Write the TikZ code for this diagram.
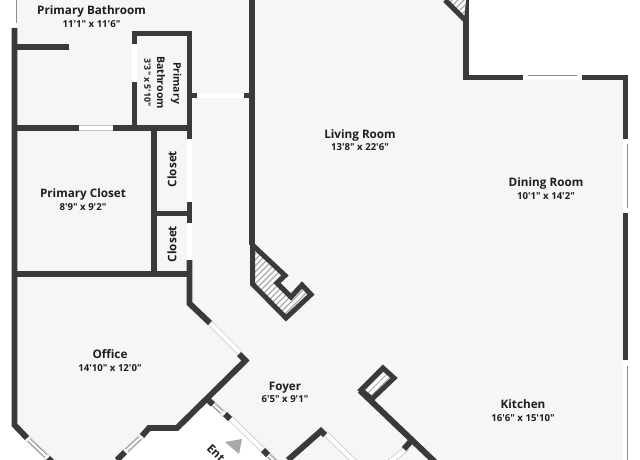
\documentclass[tikz,border=0pt]{standalone}
\usepackage{fontspec}
\usetikzlibrary{calc}
\newfontfamily\lab{Open Sans}
\definecolor{wallc}{HTML}{3A3A3A}
\definecolor{floorc}{HTML}{F6F6F6}
\definecolor{edgec}{HTML}{C4C4C4}
\definecolor{hatchc}{HTML}{A8A8A8}
\definecolor{glassc}{HTML}{8E8E8E}
\definecolor{labc}{HTML}{1E1E1E}
\tikzset{
  wall/.style={draw=wallc,line width=5.9pt,line join=miter,line cap=butt},
  thinwall/.style={draw=wallc,line width=5pt,line join=miter,line cap=butt},
  opening/.style={draw=edgec,line width=.7pt,double=white,double distance=4.2pt,line cap=butt},
  glass/.style={draw=glassc,line width=.9pt,double=white,double distance=2.2pt,line cap=butt},
  hatch/.style={draw=hatchc,line width=1.3pt},
  roomname/.style={font=\lab\bfseries\fontsize{11.7}{13}\selectfont,text=labc,inner sep=0pt,anchor=base},
  roomsize/.style={font=\lab\bfseries\fontsize{9.6}{11}\selectfont,text=labc,inner sep=0pt,anchor=base},
}
\begin{document}
\begin{tikzpicture}[x=1pt,y=-1pt]
\useasboundingbox (0,0) rectangle (640,460);
\clip (0,0) rectangle (640,460);
% floor
\fill[floorc] (14,0) -- (14,425) -- (48,460) -- (117,460) -- (150,428) -- (177,428) -- (207,399)
  -- (270,460) -- (625,460) -- (625,77) -- (466,77) -- (466,0) -- cycle;
% openings
\draw[opening] (14.5,0) -- (14.5,28);
\draw[glass] (14.5,0) -- (14.5,23);
\draw[opening] (134.5,44) -- (134.5,82);
\draw[opening] (79,128) -- (113,128);
\draw[opening] (197,95.5) -- (244,95.5);
\draw[opening] (189.5,139) -- (189.5,202);
\draw[opening] (189.5,223) -- (189.5,260);
\draw[opening] (210,323) -- (240,353);
\draw[opening] (523,77.5) -- (582,77.5);
\draw[glass] (528,77.5) -- (577,77.5);
\draw[opening] (625.5,139) -- (625.5,213);
\draw[glass] (625.5,144) -- (625.5,208);
\draw[opening] (625.5,362) -- (625.5,460);
\draw[glass] (625.5,366) -- (625.5,460);
\draw[opening] (27,438) -- (48,458);
\draw[glass] (29,440) -- (46,456);
\draw[opening] (125,452) -- (142,436);
\draw[glass] (127,450) -- (140,438);
\draw[opening] (210,401) -- (225,415);
\draw[glass] (214,405) -- (222,412);
\draw[opening] (230,418) -- (263,450);
\draw[opening] (265,452) -- (280,466);
\draw[glass] (269,456) -- (280,466);
\draw[opening] (325,433) -- (358,465);
\draw[opening] (407,448) -- (386,465);
% walls
\draw[wall] (14.5,28) -- (14.5,425) -- (27,438);
\draw[wall] (48,458) -- (53,463);
\draw[wall] (14.5,47) -- (69,47);
\draw[wall] (14.5,128) -- (79,128);
\draw[wall] (113,128) -- (189.5,128);
\draw[wall] (14.5,274) -- (189.5,274);
\draw[wall] (154,128) -- (154,274);
\draw[wall] (154,213.5) -- (189.5,213.5);
\draw[wall] (134.5,44) -- (134.5,33.5) -- (189.5,33.5) -- (189.5,139);
\draw[wall] (134.5,82) -- (134.5,128);
\draw[wall] (189.5,202) -- (189.5,223);
\draw[wall] (189.5,260) -- (189.5,303.5) -- (210,323);
\draw[wall] (192,95.5) -- (197,95.5);
\draw[wall] (244,95.5) -- (250,95.5);
\draw[wall] (239,354) -- (245.5,360.5) -- (177,428) -- (149,428) -- (142,436);
\draw[wall] (125,452) -- (117,460);
\draw[wall] (207,399) -- (213,404.5);
\draw[wall] (225,414) -- (230,419);
\draw[wall] (263,450) -- (268,455);
\draw[wall] (288,460) -- (321,431) -- (325,435);
\draw[wall] (360,390.5) -- (435,462);
\draw[wall] (404,449) -- (411,441);
\draw[wall] (466,0) -- (466,77.5) -- (523,77.5);
\draw[wall] (582,77.5) -- (625.5,77.5) -- (625.5,139);
\draw[wall] (625.5,213) -- (625.5,360);
% fireplace hatching
\begin{scope}
\clip (252,244) -- (252,284) -- (286,318) -- (311,295) -- (302,285) -- (291,297) -- (277,283) -- (285,276) -- cycle;
\fill[white] (250,240) rectangle (315,322);
\foreach \d in {0,3,...,60}{
  \draw[hatch] (245+\d,240+\d) ++(-30,30) -- ++(60,-60);
}
\end{scope}
\draw[thinwall] (252.5,245) -- (252.5,284) -- (286,318) -- (311,294.5) -- (302,285) -- (291,297) -- (277,283) -- (285,275.5) -- cycle;
\draw[wall] (252,0) -- (252,245);
% cupboard by the kitchen wall
\fill[white] (361,390) -- (383,368) -- (394,378) -- (372,399) -- cycle;
\foreach \o in {-3,0,3}{
  \draw[draw=hatchc,line width=.9pt] ($(367,394)+(\o,\o)$) -- ($(386,375)+(\o,\o)$);
}
\draw[thinwall] (361,390) -- (383,368) -- (394,378) -- (372,399) -- cycle;
% stairs at the top
\begin{scope}
\clip (445,0) -- (464,19) -- (466,0) -- cycle;
\fill[white] (440,0) rectangle (470,20);
\foreach \d in {0,3,...,24}{
  \draw[hatch] (445+\d,-5+\d) ++(-15,15) -- ++(30,-30);
}
\end{scope}
\draw[thinwall] (445,0) -- (466,21);
% entry arrow
\fill[hatchc] (225,442) -- (242,439) -- (239,454) -- cycle;
% labels
\node[roomname] (bathname) at (91.5,15) {Primary Bathroom};
\node[roomsize] (bathsize) at (91.5,27.7) {11'1" x 11'6"};
\node[roomname,font=\lab\bfseries\fontsize{10.5}{12}\selectfont,rotate=-90,anchor=center] (halfnamea) at (176,83) {Primary};
\node[roomname,font=\lab\bfseries\fontsize{10.5}{12}\selectfont,rotate=-90,anchor=center] (halfnameb) at (161,82.5) {Bathroom};
\node[roomsize,font=\lab\bfseries\fontsize{8.8}{10}\selectfont,rotate=-90,anchor=center] (halfsize) at (147.5,82.5) {3'3" x 5'10"};
\node[roomname,rotate=90,anchor=center] (closeta) at (172,169) {Closet};
\node[roomname,rotate=90,anchor=center] (closetb) at (172,244) {Closet};
\node[roomname] (pcname) at (83,197.3) {Primary Closet};
\node[roomsize] (pcsize) at (83,210) {8'9" x 9'2"};
\node[roomname] (livingname) at (360,138) {Living Room};
\node[roomsize] (livingsize) at (360,150.7) {13'8" x 22'6"};
\node[roomname] (diningname) at (546,186) {Dining Room};
\node[roomsize] (diningsize) at (546,199.2) {10'1" x 14'2"};
\node[roomname] (officename) at (110,358.7) {Office};
\node[roomsize] (officesize) at (110,371.7) {14'10" x 12'0"};
\node[roomname] (foyername) at (285,390) {Foyer};
\node[roomsize] (foyersize) at (285,402.5) {6'5" x 9'1"};
\node[roomname] (kitchenname) at (523,408.3) {Kitchen};
\node[roomsize] (kitchensize) at (523,421.2) {16'6" x 15'10"};
\node[roomname,rotate=-45,anchor=west] (entryname) at (209,446) {Ent};
\end{tikzpicture}
\end{document}
